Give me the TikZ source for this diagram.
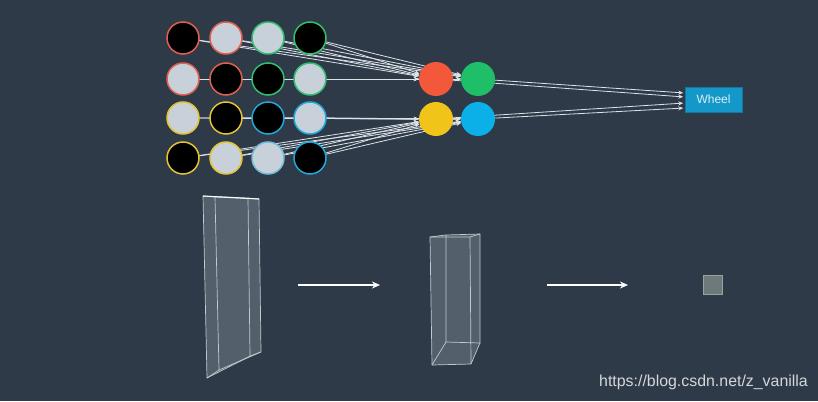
\documentclass[tikz,border=0pt]{standalone}
\usepackage{fontspec}
\setmainfont{Liberation Sans}
\usetikzlibrary{arrows.meta,calc}
\pgfdeclarelayer{back}
\pgfdeclarelayer{lines}
\pgfsetlayers{back,lines,main}
\definecolor{bgc}{HTML}{2E3A48}
\definecolor{lightc}{HTML}{C8D0DA}
\definecolor{redb}{HTML}{E0604F}
\definecolor{greenb}{HTML}{2FBF6F}
\definecolor{yellowb}{HTML}{E3C233}
\definecolor{blueb}{HTML}{1FA8D8}
\definecolor{orangen}{HTML}{F4583A}
\definecolor{greenn}{HTML}{1FBF6A}
\definecolor{yellown}{HTML}{F0C419}
\definecolor{bluen}{HTML}{0BB0E8}
\definecolor{wheelc}{HTML}{1497C9}
\definecolor{linec}{HTML}{DDE2E8}
\definecolor{prismfill}{HTML}{56616C}
\definecolor{prismline}{HTML}{C3C9CF}
\definecolor{cubec}{HTML}{6E7A79}
\begin{document}
\begin{tikzpicture}[x=1pt,y=-1pt,
  inp/.style={circle, minimum size=32pt, inner sep=0pt, line width=1.5pt},
  dk/.style={inp, fill=black},
  lt/.style={inp, fill=lightc},
  mid/.style={circle, minimum size=34pt, inner sep=0pt},
  conn/.style={draw=linec, line width=0.8pt, -{Stealth[length=5pt,width=4pt]}},
  bigarrow/.style={draw=white, line width=1.3pt, -{Stealth[length=8pt,width=7pt]}},
  prism/.style={draw=prismline, line width=0.7pt, line join=round}
]
\begin{pgfonlayer}{back}
\fill[bgc] (0,0) rectangle (818,401);
\end{pgfonlayer}
\useasboundingbox (0,0) rectangle (818,401);

% input circles
\node[dk, draw=redb]   (a1) at (183,38) {};
\node[lt, draw=redb]   (a2) at (226,38) {};
\node[lt, draw=greenb] (a3) at (268,38) {};
\node[dk, draw=greenb] (a4) at (310,38) {};
\node[lt, draw=redb]   (b1) at (183,79) {};
\node[dk, draw=redb]   (b2) at (226,79) {};
\node[dk, draw=greenb] (b3) at (268,79) {};
\node[lt, draw=greenb] (b4) at (310,79) {};
\node[lt, draw=yellowb] (c1) at (183,118) {};
\node[dk, draw=yellowb] (c2) at (226,118) {};
\node[dk, draw=blueb]   (c3) at (268,118) {};
\node[lt, draw=blueb]   (c4) at (310,118) {};
\node[dk, draw=yellowb] (d1) at (183,158) {};
\node[lt, draw=yellowb] (d2) at (226,158) {};
\node[lt, draw=blueb!50!lightc] (d3) at (268,158) {};
\node[dk, draw=blueb]   (d4) at (310,158) {};

% hidden layer nodes
\node[mid, fill=orangen] (no) at (436,79) {};
\node[mid, fill=greenn]  (ng) at (478,79) {};
\node[mid, fill=yellown] (ny) at (436,119) {};
\node[mid, fill=bluen]   (nb) at (478,119) {};

% output
\node[fill=wheelc, draw=wheelc!80!black, line width=0.5pt, minimum width=57pt, minimum height=25pt, inner sep=0pt,
      text=white!85!wheelc, font=\fontsize{12}{12}\selectfont] (wheel) at (713.5,99.5) {Wheel};

\begin{pgfonlayer}{lines}
\foreach \s in {a1,a2,a3,a4,b1,b2,b3,b4}{
  \draw[conn] (\s.center) -- (no);
  \draw[conn] (\s.center) -- (ng);
}
\foreach \s in {c1,c2,c3,c4,d1,d2,d3,d4}{
  \draw[conn] (\s.center) -- (ny);
  \draw[conn] (\s.center) -- (nb);
}
\draw[conn, shorten >=1.5pt] (ng.center) -- ([yshift=6.5pt]wheel.west);
\draw[conn, shorten >=1.5pt] (no.center) -- ([yshift=2.5pt]wheel.west);
\draw[conn, shorten >=1.5pt] (ny.center) -- ([yshift=-3.5pt]wheel.west);
\draw[conn, shorten >=1.5pt] (nb.center) -- ([yshift=-8.5pt]wheel.west);
\end{pgfonlayer}

% prism 1
\coordinate (pAa) at (203,196); \coordinate (pAb) at (248,198);
\coordinate (pAc) at (250,356); \coordinate (pAd) at (207,378);
\coordinate (pAe) at (215,197); \coordinate (pAf) at (259,199);
\coordinate (pAg) at (261,352); \coordinate (pAh) at (219,370);
\fill[prismfill, opacity=0.95] (pAa) -- (pAe) -- (pAf) -- (pAg) -- (pAd) -- cycle;
\draw[prism] (pAa) -- (pAb) -- (pAc) -- (pAd) -- cycle;
\draw[prism] (pAe) -- (pAf) -- (pAg) -- (pAh) -- cycle;
\draw[prism] (pAa) -- (pAe) (pAb) -- (pAf) (pAc) -- (pAg) (pAd) -- (pAh);
\draw[white, line width=1pt] (pAa) -- (pAf);

% prism 2
\coordinate (pBa) at (430,237); \coordinate (pBb) at (470,237);
\coordinate (pBc) at (471,364); \coordinate (pBd) at (432,365);
\coordinate (pBe) at (446,235); \coordinate (pBf) at (480,234);
\coordinate (pBg) at (480,343); \coordinate (pBh) at (446,342);
\fill[prismfill, opacity=0.95] (pBa) -- (pBe) -- (pBf) -- (pBg) -- (pBc) -- (pBd) -- cycle;
\draw[prism] (pBa) -- (pBb) -- (pBc) -- (pBd) -- cycle;
\draw[prism] (pBe) -- (pBf) -- (pBg) -- (pBh) -- cycle;
\draw[prism] (pBa) -- (pBe) (pBb) -- (pBf) (pBc) -- (pBg) (pBd) -- (pBh);

% small cube
\node[fill=cubec, draw=cubec!70!white, line width=0.6pt, minimum size=19pt, inner sep=0pt] (cube) at (713,285) {};

% arrows between stages
\coordinate (r1s) at (298,285); \coordinate (r1e) at (380,285);
\coordinate (r2s) at (547,285); \coordinate (r2e) at (628,285);
\draw[bigarrow] (r1s) -- (r1e);
\draw[bigarrow] (r2s) -- (r2e);

% watermark
\node[anchor=base west, inner sep=0pt, text=white!80!bgc, font=\fontsize{15.9}{16}\selectfont] (wm) at (599,386) {https://blog.csdn.net/z\_vanilla};
\end{tikzpicture}
\end{document}
